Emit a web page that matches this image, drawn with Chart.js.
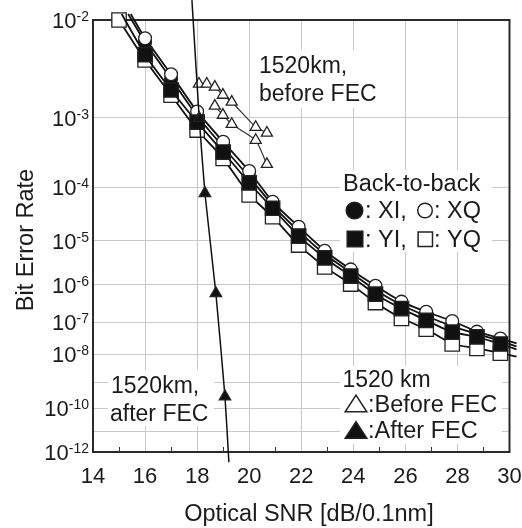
<!DOCTYPE html>
<html>
<head>
<meta charset="utf-8">
<script src="https://cdn.jsdelivr.net/npm/chart.js@4.4.0/dist/chart.umd.min.js"></script>
<style>
html,body{margin:0;padding:0;background:#fff}
canvas{display:block}
</style>
</head>
<body>
<canvas id="ber" width="522" height="528"></canvas>
<script>
/* ===== data ===== */
const xMin = 14, xMax = 30;
const xLabels = [14, 16, 18, 20, 22, 24, 26, 28, 30];
// y axis is BER; grid at 10^-2 ... 10^-12, labels skip -9 and -11
const yGridExps = [2, 3, 4, 5, 6, 7, 8, 9, 10, 11, 12];
const yLabelExps = [2, 3, 4, 5, 6, 7, 8, 10, 12];

// back-to-back
const osnrB2B = [16, 17, 18, 19, 20, 20.9, 21.9, 22.9, 23.9, 24.85, 25.85, 26.8, 27.8, 28.75, 29.65];
const berXI = [6.4e-3, 2.8e-3, 1.05e-3, 4.1e-4, 1.46e-4, 4.9e-5, 1.58e-5, 5.2e-6, 2.0e-6, 7.4e-7, 3.0e-7, 1.49e-7, 7.6e-8, 4.4e-8, 2.7e-8];
const berXQ = [6.95e-3, 3.13e-3, 1.19e-3, 4.85e-4, 1.81e-4, 5.6e-5, 1.93e-5, 6.2e-6, 2.36e-6, 9.5e-7, 3.7e-7, 1.96e-7, 1.07e-7, 5.2e-8, 3.2e-8];
const berYI = [4.9e-3, 2.12e-3, 8.8e-4, 3.48e-4, 1.17e-4, 4.3e-5, 1.26e-5, 4.3e-6, 1.64e-6, 5.8e-7, 2.4e-7, 1.12e-7, 5.0e-8, 3.6e-8, 2.15e-8];
const osnrYQ = [15, 16, 17, 18, 19, 20, 20.9, 21.9, 22.9, 23.9, 24.85, 25.85, 26.8, 27.8, 28.75, 29.65];
const berYQ = [1.0e-2, 4.36e-3, 1.86e-3, 6.97e-4, 2.82e-4, 7.4e-5, 3.0e-5, 8.2e-6, 2.7e-6, 1.05e-6, 3.5e-7, 1.28e-7, 6.2e-8, 2.15e-8, 1.56e-8, 1.09e-8];
// ends of the fitted curves (they run past the frame in the figure)
const fitXI = [[15.35, 1.12e-2], [30.27, 1.8e-8]];
const fitXQ = [[15.45, 1.12e-2], [30.27, 2.25e-8]];
const fitYI = [[15.1, 1.12e-2], [30.27, 1.45e-8]];
const fitYQ = [[14.88, 1.12e-2], [30.27, 8.4e-9]];

// 1520 km
const osnrBefore1 = [18.07, 18.37, 18.68, 18.99, 19.33, 20.25, 20.68];
const berBefore1 = [2.47e-3, 2.47e-3, 2.29e-3, 1.86e-3, 1.55e-3, 7.6e-4, 6.4e-4];
const osnrBefore2 = [18.68, 18.99, 19.33, 20.25, 20.68];
const berBefore2 = [1.39e-3, 1.08e-3, 8.3e-4, 5.1e-4, 2.3e-4];
const osnrAfter = [18.08, 18.3, 18.72, 19.07];
const berAfter = [9.9e-4, 7.9e-5, 6.1e-7, 2.9e-10];
const fitAfter = [[17.8, 1.44e-2], [19.22, 3.0e-13]];

/* ===== look ===== */
const FONT = '"Liberation Sans", Arial, Helvetica, sans-serif';
const INK = '#1b1b1b';
const GRID = '#c9c9c9';

/* ===== BER scale: linear in log(-log(BER)) ===== */
const tf = v => Math.log10(-Math.log10(v));
class BerScale extends Chart.Scale {
    determineDataLimits(){ this.min = this.options.min; this.max = this.options.max; }
    buildTicks(){ return yGridExps.map(e => ({value: Math.pow(10, -e)})); }
    configure(){ super.configure(); this._lo = tf(this.min); this._hi = tf(this.max); }
    getLabelForValue(v){ return String(v); }
    getPixelForValue(v){ return this.getPixelForDecimal((this._lo - tf(v)) / (this._lo - this._hi)); }
    getValueForPixel(p){
        const d = this.getDecimalForPixel(p);
        return Math.pow(10, -Math.pow(10, this._lo - d * (this._lo - this._hi)));
    }
}
BerScale.id = 'ber';
BerScale.defaults = {};
Chart.register(BerScale);

/* ===== helpers ===== */
function pts(xs, ys, fit){
    const d = xs.map((x, i) => ({x, y: ys[i]}));
    if (fit){
        d.unshift({x: fit[0][0], y: fit[0][1], fit: true});
        d.push({x: fit[1][0], y: fit[1][1], fit: true});
    }
    return d;
}
function series(data, style, r, fill, order, lineW, lineC){
    return {
        data, showLine: true, tension: 0.15, clip: false, order,
        borderColor: lineC, borderWidth: lineW,
        pointStyle: style,
        pointRadius: c => (c.raw && c.raw.fit) ? 0 : r,
        pointBackgroundColor: fill, pointBorderColor: '#222', pointBorderWidth: 1.3
    };
}
function shape(ctx, kind, cx, cy, s, filled){
    ctx.beginPath();
    if (kind === 'circle') ctx.arc(cx, cy, s, 0, Math.PI * 2);
    else if (kind === 'rect') ctx.rect(cx - s, cy - s, 2 * s, 2 * s);
    else { ctx.moveTo(cx, cy - s * 0.77); ctx.lineTo(cx + s, cy + s * 0.77); ctx.lineTo(cx - s, cy + s * 0.77); ctx.closePath(); }
    ctx.fillStyle = filled ? '#111' : '#fff';
    ctx.fill();
    ctx.lineWidth = 1.5; ctx.strokeStyle = '#222';
    ctx.stroke();
}
function txt(ctx, s, x, y, size){
    ctx.font = size + 'px ' + FONT;
    ctx.fillText(s, x, y);
}

/* ===== decorations: frame, ticks, labels, notes ===== */
const decor = {
    id: 'decor',
    beforeDatasetsDraw(chart){
        const {ctx, chartArea: a, scales: {x, y}} = chart;
        ctx.save();
        // white panels behind the in-plot notes
        ctx.fillStyle = '#fff';
        ctx.fillRect(256, 50, 126, 58);
        ctx.fillRect(340, 170, 152, 82);
        ctx.fillRect(340, 366, 162, 78);
        ctx.fillRect(108, 370, 106, 56);
        // minor ticks at odd OSNR
        ctx.strokeStyle = '#333'; ctx.lineWidth = 1;
        for (let v = xMin + 1; v < xMax; v += 2){
            const px = Math.round(x.getPixelForValue(v)) + 0.5;
            ctx.beginPath(); ctx.moveTo(px, a.bottom); ctx.lineTo(px, a.bottom - 5); ctx.stroke();
        }
        // frame
        ctx.strokeStyle = '#2a2a2a'; ctx.lineWidth = 2;
        ctx.strokeRect(a.left, a.top, a.right - a.left, a.bottom - a.top);
        // tick labels
        ctx.fillStyle = INK;
        ctx.textAlign = 'center'; ctx.textBaseline = 'alphabetic';
        xLabels.forEach(v => txt(ctx, String(v), x.getPixelForValue(v), 483, 22));
        ctx.textAlign = 'right';
        yLabelExps.forEach(e => {
            const py = y.getPixelForValue(Math.pow(10, -e));
            ctx.font = '14px ' + FONT;
            const ew = ctx.measureText('-' + e).width;
            ctx.fillText('-' + e, 89, py + 1);
            txt(ctx, '10', 89 - ew, py + 8, 22);
        });
        // axis titles
        ctx.textAlign = 'center';
        txt(ctx, 'Optical SNR [dB/0.1nm]', 309, 521, 23.5);
        ctx.translate(33, 240); ctx.rotate(-Math.PI / 2);
        txt(ctx, 'Bit Error Rate', 0, 0, 23.5);
        ctx.restore();
    },
    afterDatasetsDraw(chart){
        const ctx = chart.ctx;
        ctx.save();
        ctx.fillStyle = INK; ctx.textAlign = 'left'; ctx.textBaseline = 'alphabetic';
        txt(ctx, '1520km,', 259, 73, 23);
        txt(ctx, 'before FEC', 259, 101, 23);
        txt(ctx, '1520km,', 111, 393, 23);
        txt(ctx, 'after FEC', 110, 421, 23);
        // back-to-back key
        txt(ctx, 'Back-to-back', 343, 190.5, 23.5);
        shape(ctx, 'circle', 354.5, 210.5, 8.3, true);
        ctx.fillStyle = INK; txt(ctx, ': XI,', 365, 218, 23.5);
        shape(ctx, 'circle', 425, 210.5, 7.3, false);
        ctx.fillStyle = INK; txt(ctx, ': XQ', 434, 218, 23.5);
        shape(ctx, 'rect', 355, 239, 7.8, true);
        ctx.fillStyle = INK; txt(ctx, ': YI,', 365, 246.5, 23.5);
        shape(ctx, 'rect', 425.3, 239.3, 7.2, false);
        ctx.fillStyle = INK; txt(ctx, ': YQ', 434, 246.5, 23.5);
        // 1520 km key
        txt(ctx, '1520 km', 342.5, 386.5, 23);
        shape(ctx, 'tri', 356, 403.5, 10.8, false);
        ctx.fillStyle = INK; txt(ctx, ':Before FEC', 368, 411.5, 23.5);
        shape(ctx, 'tri', 356, 430, 10.8, true);
        ctx.fillStyle = INK; txt(ctx, ':After FEC', 368, 438.3, 23.5);
        ctx.restore();
    }
};

/* ===== chart ===== */
new Chart(document.getElementById('ber'), {
    type: 'scatter',
    data: {
        datasets: [
            series(pts(osnrAfter, berAfter, fitAfter), 'triangle', 6.6, '#111', 0, 1.5, '#111'),
            series(pts(osnrBefore1, berBefore1), 'triangle', 6.4, '#fff', 1, 1.2, '#333'),
            series(pts(osnrBefore2, berBefore2), 'triangle', 6.4, '#fff', 1, 1.2, '#333'),
            series(pts(osnrB2B, berYI, fitYI), 'rect', 10.2, '#111', 2, 1.8, '#111'),
            series(pts(osnrB2B, berXQ, fitXQ), 'circle', 6.4, '#fff', 3, 1.8, '#111'),
            series(pts(osnrB2B, berXI, fitXI), 'circle', 6.4, '#111', 4, 1.8, '#111'),
            series(pts(osnrYQ, berYQ, fitYQ), 'rect', 10.2, '#fff', 5, 1.8, '#111')
        ]
    },
    options: {
        responsive: false, animation: false, devicePixelRatio: 1, events: [],
        layout: {padding: {top: 20, right: 12.5, left: 0, bottom: 0}},
        plugins: {legend: {display: false}, tooltip: {enabled: false}},
        scales: {
            x: {
                type: 'linear', min: xMin, max: xMax,
                ticks: {stepSize: 1, display: false},
                grid: {color: c => (c.tick && c.tick.value % 2 === 0) ? GRID : 'rgba(0,0,0,0)', drawTicks: false},
                border: {display: false},
                afterFit: s => { s.height = 76; }
            },
            y: {
                type: 'ber', min: 1e-12, max: 1e-2,
                ticks: {display: false},
                grid: {color: GRID, drawTicks: false},
                border: {display: false},
                afterFit: s => { s.width = 93; }
            }
        }
    },
    plugins: [decor]
});
</script>
</body>
</html>
